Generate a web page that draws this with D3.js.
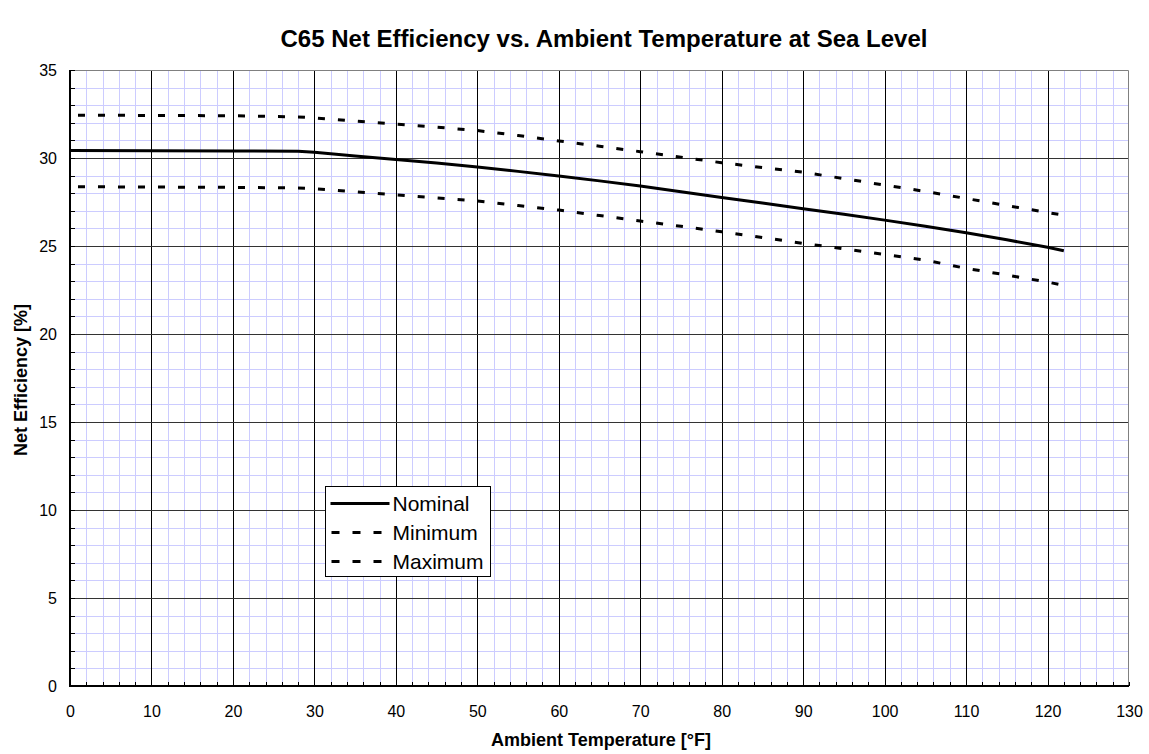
<!DOCTYPE html>
<html>
<head>
<meta charset="utf-8">
<script src="https://cdn.jsdelivr.net/npm/d3@7"></script>
<style>
  body { margin: 0; background: #fff; }
  svg { display: block; font-family: "Liberation Sans", Arial, sans-serif; }
</style>
</head>
<body>
<div id="chart"></div>
<script>
'use strict';

// temperatures [°F]
const temps = [0, 10, 20, 28, 30, 35, 40, 45, 50, 55, 60, 65, 70, 75, 80, 85, 90, 95, 100, 105, 110, 115, 120, 122];

// net efficiency [%]
const nominal = [30.42, 30.41, 30.40, 30.38, 30.32, 30.12, 29.92, 29.72, 29.49, 29.24, 28.98, 28.70, 28.41, 28.08, 27.75, 27.44, 27.12, 26.80, 26.47, 26.12, 25.75, 25.35, 24.93, 24.73];
const minimum = [32.43, 32.42, 32.40, 32.33, 32.28, 32.10, 31.92, 31.75, 31.56, 31.28, 30.97, 30.67, 30.36, 30.05, 29.73, 29.46, 29.19, 28.83, 28.46, 28.10, 27.70, 27.30, 26.90, 26.75];
const maximum = [28.37, 28.35, 28.33, 28.30, 28.26, 28.08, 27.90, 27.73, 27.56, 27.30, 27.04, 26.73, 26.42, 26.12, 25.81, 25.48, 25.15, 24.84, 24.52, 24.20, 23.73, 23.35, 22.95, 22.76];

const seriesNames = ['Nominal', 'Minimum', 'Maximum'];
const xTicks = d3.range(0, 131, 10);
const yTicks = d3.range(0, 36, 5);

const title = 'C65 Net Efficiency vs. Ambient Temperature at Sea Level';
const xTitle = 'Ambient Temperature [°F]';
const yTitle = 'Net Efficiency [%]';

let config = {
    width: 1149,
    height: 754,
    margin: { top: 70, right: 20, bottom: 68, left: 70 }
};
config.innerWidth = config.width - config.margin.left - config.margin.right;
config.innerHeight = config.height - config.margin.top - config.margin.bottom;

let svg = d3.select('#chart').append('svg')
    .attr('width', config.width)
    .attr('height', config.height);

svg.append('text')
    .attr('x', 604)
    .attr('y', 47)
    .attr('text-anchor', 'middle')
    .attr('font-size', 24)
    .attr('font-weight', 'bold')
    .text(title);

let g = svg.append('g')
    .attr('transform', 'translate(' + config.margin.left + ',' + config.margin.top + ')');

let xScale = d3.scaleLinear().domain([0, 130]).range([0, config.innerWidth]);
let yScale = d3.scaleLinear().domain([0, 35]).range([config.innerHeight, 0]);

// minor grid
let grid = g.append('g').attr('class', 'grid');
grid.selectAll('.minor-x')
    .data(d3.range(0, 131, 2).filter(v => v % 10 !== 0))
    .enter().append('line')
    .attr('x1', d => Math.round(xScale(d)) + 0.5)
    .attr('x2', d => Math.round(xScale(d)) + 0.5)
    .attr('y1', 0).attr('y2', config.innerHeight)
    .attr('stroke', '#ccccff');
grid.selectAll('.minor-y')
    .data(d3.range(0, 36, 1).filter(v => v % 5 !== 0))
    .enter().append('line')
    .attr('y1', d => Math.round(yScale(d)) + 0.5)
    .attr('y2', d => Math.round(yScale(d)) + 0.5)
    .attr('x1', 0).attr('x2', config.innerWidth)
    .attr('stroke', '#ccccff');

// major grid
grid.selectAll('.major-x')
    .data(xTicks.filter(v => v > 0 && v < 130))
    .enter().append('line')
    .attr('x1', d => Math.round(xScale(d)) + 0.5)
    .attr('x2', d => Math.round(xScale(d)) + 0.5)
    .attr('y1', 0).attr('y2', config.innerHeight)
    .attr('stroke', '#000');
grid.selectAll('.major-y')
    .data(yTicks.filter(v => v > 0 && v < 35))
    .enter().append('line')
    .attr('y1', d => Math.round(yScale(d)) + 0.5)
    .attr('y2', d => Math.round(yScale(d)) + 0.5)
    .attr('x1', 0).attr('x2', config.innerWidth)
    .attr('stroke', '#333');

// frame (top/right gray)
g.append('path')
    .attr('d', 'M0.5,0.5H' + (config.innerWidth - 0.5) + 'V' + config.innerHeight)
    .attr('fill', 'none')
    .attr('stroke', '#808080');

// axes with inward ticks
let xAxis = d3.axisBottom(xScale).tickValues(xTicks).tickSize(0).tickPadding(20);
let xAxisG = g.append('g')
    .attr('transform', 'translate(0,' + config.innerHeight + ')')
    .call(xAxis);
xAxisG.select('.domain').attr('stroke', '#000').attr('stroke-width', 2).attr('d', 'M-1,0H' + config.innerWidth);
xAxisG.selectAll('text').attr('font-size', 16).attr('font-family', null).attr('fill', '#000');

let yAxis = d3.axisLeft(yScale).tickValues(yTicks).tickSize(0).tickPadding(13);
let yAxisG = g.append('g').call(yAxis);
yAxisG.select('.domain').attr('stroke', '#000').attr('stroke-width', 2).attr('d', 'M0,0V' + (config.innerHeight + 1));
yAxisG.selectAll('text').attr('font-size', 16).attr('font-family', null).attr('fill', '#000');

g.append('g').selectAll('line')
    .data(d3.range(0, 131, 2))
    .enter().append('line')
    .attr('x1', d => Math.round(xScale(d)) + 0.5)
    .attr('x2', d => Math.round(xScale(d)) + 0.5)
    .attr('y1', config.innerHeight).attr('y2', config.innerHeight - 4)
    .attr('stroke', '#000');
g.append('g').selectAll('line')
    .data(d3.range(0, 36, 1))
    .enter().append('line')
    .attr('y1', d => Math.round(yScale(d)) + 0.5)
    .attr('y2', d => Math.round(yScale(d)) + 0.5)
    .attr('x1', 0).attr('x2', 5)
    .attr('stroke', '#000');

// axis titles
svg.append('text')
    .attr('x', 601)
    .attr('y', 746)
    .attr('text-anchor', 'middle')
    .attr('font-size', 18)
    .attr('font-weight', 'bold')
    .text(xTitle);
svg.append('text')
    .attr('transform', 'translate(27,380) rotate(-90)')
    .attr('text-anchor', 'middle')
    .attr('font-size', 18)
    .attr('font-weight', 'bold')
    .text(yTitle);

// lines
let line = d3.line()
    .x((d, i) => xScale(temps[i]))
    .y(d => yScale(d));

let series = [
    { name: seriesNames[0], values: nominal, dash: null, width: 3 },
    { name: seriesNames[1], values: minimum, dash: '7,13', width: 3 },
    { name: seriesNames[2], values: maximum, dash: '7,13', width: 3 }
];

g.append('g').selectAll('path')
    .data(series)
    .enter().append('path')
    .attr('d', d => line(d.values))
    .attr('fill', 'none')
    .attr('stroke', '#000')
    .attr('stroke-width', d => d.width)
    .attr('stroke-dasharray', d => d.dash)
    .attr('stroke-dashoffset', d => d.dash ? 12 : null);

// legend
let legend = svg.append('g').attr('transform', 'translate(325.5,486.5)');
legend.append('rect')
    .attr('width', 165).attr('height', 90)
    .attr('fill', '#fff').attr('stroke', '#000');
let items = legend.selectAll('.item')
    .data(series)
    .enter().append('g')
    .attr('transform', (d, i) => 'translate(0,' + (17 + i * 29) + ')');
items.append('line')
    .attr('x1', d => d.dash ? 6 : 5).attr('x2', 64)
    .attr('stroke', '#000')
    .attr('stroke-width', d => d.width)
    .attr('stroke-dasharray', d => d.dash ? '8,13' : null);
items.append('text')
    .attr('x', 67)
    .attr('y', 7)
    .attr('font-size', 21)
    .text(d => d.name);
</script>
</body>
</html>
